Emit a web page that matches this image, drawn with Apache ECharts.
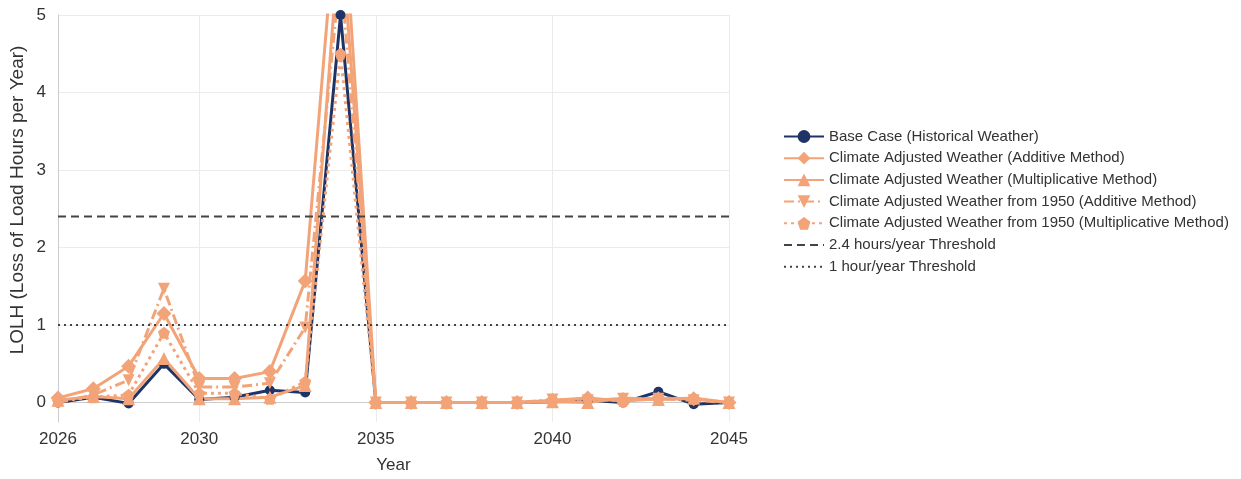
<!DOCTYPE html>
<html>
<head>
<meta charset="utf-8">
<script src="https://cdn.jsdelivr.net/npm/echarts@6/dist/echarts.min.js"></script>
<style>
  html, body { margin: 0; padding: 0; background: #fff; }
  #chart { width: 1241px; height: 479px; }
</style>
</head>
<body>
<div id="chart"></div>
<script>
// Loss of load hours by study year
const years = [2026, 2027, 2028, 2029, 2030, 2031, 2032, 2033, 2034, 2035,
               2036, 2037, 2038, 2039, 2040, 2041, 2042, 2043, 2044, 2045];

const baseCase        = [0.00, 0.07, -0.01, 0.50, 0.04, 0.07, 0.16, 0.13, 5.00, 0, 0, 0, 0, 0, 0.01, 0.03, 0.00, 0.14, -0.02, 0.00];
const additive        = [0.06, 0.18, 0.47, 1.15, 0.31, 0.31, 0.40, 1.57, 7.00, 0, 0, 0, 0, 0, 0.03, 0.06, 0.02, 0.05, 0.05, 0.00];
const multiplicative  = [0.03, 0.08, 0.05, 0.57, 0.05, 0.05, 0.07, 0.22, 6.20, 0, 0, 0, 0, 0, 0.01, 0.00, 0.06, 0.04, 0.06, 0.00];
const additive1950    = [0.00, 0.10, 0.29, 1.47, 0.20, 0.20, 0.25, 0.97, 5.60, 0, 0, 0, 0, 0, 0.04, 0.03, 0.05, 0.05, 0.03, 0.00];
const multiplicative1950 = [0.02, 0.07, 0.10, 0.90, 0.12, 0.12, 0.05, 0.27, 4.50, 0, 0, 0, 0, 0, 0.02, 0.05, 0.02, 0.06, 0.05, 0.00];

const thresholdHigh = 2.4;
const thresholdLow = 1;

const xTicks = [2026, 2030, 2035, 2040, 2045];
const yTicks = [0, 1, 2, 3, 4, 5];

const seriesNames = [
  'Base Case (Historical Weather)',
  'Climate Adjusted Weather (Additive Method)',
  'Climate Adjusted Weather (Multiplicative Method)',
  'Climate Adjusted Weather from 1950 (Additive Method)',
  'Climate Adjusted Weather from 1950 (Multiplicative Method)',
  '2.4 hours/year Threshold',
  '1 hour/year Threshold'
];
const yTitle = 'LOLH (Loss of Load Hours per Year)';

const NAVY = '#1f3466';
const ORANGE = '#f2a478';
const GREY = '#444444';
const FONT = '"Liberation Sans", Arial, sans-serif';

const pair = arr => years.map((y, i) => [y, arr[i]]);
const pentagon = 'path://M0,-10 L9.51,-3.09 L5.88,8.09 L-5.88,8.09 L-9.51,-3.09 Z';
const triDown = 'path://M-10,-8 L10,-8 L0,9 Z';

function lineSeries(name, data, color, symbol, size, type, width) {
  return {
    name, type: 'line', data: pair(data),
    symbol, symbolSize: size, showSymbol: true,
    clip: true,
    lineStyle: { color, width, type },
    itemStyle: { color },
    emphasis: { disabled: true },
    z: 3
  };
}

function thresholdSeries(name, value, type) {
  return {
    name, type: 'line',
    data: [[years[0], value], [years[years.length - 1], value]],
    symbol: 'none', showSymbol: false,
    lineStyle: { color: GREY, width: 2, type },
    itemStyle: { color: GREY },
    emphasis: { disabled: true },
    z: 4
  };
}

const legendData = seriesNames.map((name, i) =>
  i >= 5 ? { name, itemStyle: { opacity: 0 } } : { name });

const chart = echarts.init(document.getElementById('chart'), null, { renderer: 'canvas' });
chart.setOption({
  animation: false,
  backgroundColor: '#ffffff',
  textStyle: { fontFamily: FONT },
  grid: { left: 58, right: 512, top: 15, bottom: 53, containLabel: false },
  legend: {
    orient: 'vertical', left: 778, top: 124,
    itemWidth: 40, itemHeight: 16, itemGap: 6.7,
    textStyle: { fontSize: 15, color: '#333', fontFamily: FONT },
    data: legendData
  },
  graphic: [{
    type: 'text', x: 18, y: 200, rotation: Math.PI / 2,
    style: { text: yTitle, fill: '#333', font: '19px "Liberation Sans", Arial, sans-serif',
             textAlign: 'center', textVerticalAlign: 'middle' }
  }],
  xAxis: {
    type: 'value', min: 2026, max: 2045,
    name: 'Year', nameLocation: 'middle', nameGap: 35,
    nameTextStyle: { fontSize: 17, color: '#333' },
    axisLine: { show: true, lineStyle: { color: '#cccccc', width: 1 } },
    axisTick: { show: false, customValues: xTicks },
    axisLabel: { customValues: xTicks, fontSize: 17, color: '#333', margin: 9, formatter: v => String(v) },
    splitLine: { show: true, lineStyle: { color: '#ebebeb', width: 1 } }
  },
  yAxis: {
    type: 'value', min: -0.25, max: 5,
    axisLine: { show: true, lineStyle: { color: '#cccccc', width: 1 } },
    axisTick: { show: false, customValues: yTicks },
    axisLabel: { customValues: yTicks, fontSize: 17, color: '#333', margin: 12 },
    splitLine: { show: true, lineStyle: { color: '#ebebeb', width: 1 } }
  },
  series: [
    lineSeries(seriesNames[0], baseCase, NAVY, 'circle', 10, 'solid', 3),
    lineSeries(seriesNames[1], additive, ORANGE, 'diamond', 15, 'solid', 3),
    lineSeries(seriesNames[2], multiplicative, ORANGE, 'triangle', 13, 'solid', 3),
    lineSeries(seriesNames[3], additive1950, ORANGE, triDown, 12, [10, 4, 2, 4], 3),
    lineSeries(seriesNames[4], multiplicative1950, ORANGE, pentagon, 12, [3, 4], 3),
    thresholdSeries(seriesNames[5], thresholdHigh, [8, 5]),
    thresholdSeries(seriesNames[6], thresholdLow, [2, 4])
  ]
});
</script>
</body>
</html>
